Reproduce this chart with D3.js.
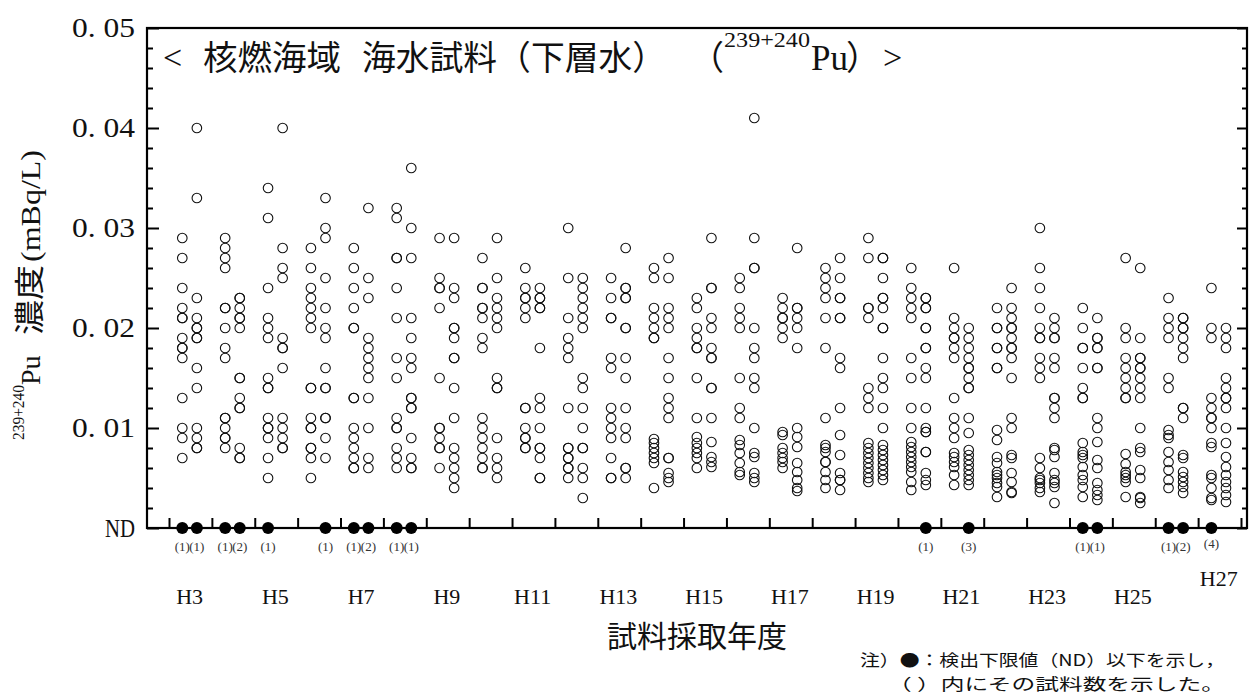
<!DOCTYPE html>
<html><head><meta charset="utf-8">
<script src="https://cdn.jsdelivr.net/npm/d3@7"></script>
<style>
body{margin:0;background:#fff;}
svg{display:block;}
</style></head><body>
<svg id="chart" width="1258" height="694"></svg>
<script>
// ---------------- data ----------------
const yearLabels = ["H3","H5","H7","H9","H11","H13","H15","H17","H19","H21","H23","H25","H27"];
const yearLabelYears = [3,5,7,9,11,13,15,17,19,21,23,25,27];
const yearBoundaries = [3,4,5,6,7,8,9,10,11,12,13,14,15,16,17,18,19,20,21,22,23,24,25,26,27,28];
const yTickValues = [0,0.01,0.02,0.03,0.04,0.05];
const yTickLabels = ["ND","0. 01","0. 02","0. 03","0. 04","0. 05"];

// each sampling column: fiscal year, half (0 = first column, 1 = second column), values (mBq/L)
const columnYear = [3,3,4,4,5,5,6,6,7,7,8,8,9,9,10,10,11,11,12,12,13,13,14,14,15,15,16,16,17,17,18,18,19,19,20,20,21,21,22,22,23,23,24,24,25,25,26,26,27,27];
const columnHalf = [0,1,0,1,0,1,0,1,0,1,0,1,0,1,0,1,0,1,0,1,0,1,0,1,0,1,0,1,0,1,0,1,0,1,0,1,0,1,0,1,0,1,0,1,0,1,0,1,0,1];
const columnValues = [
  [0.029,0.027,0.024,0.022,0.021,0.021,0.019,0.018,0.018,0.017,0.013,0.010,0.009,0.007],
  [0.040,0.033,0.023,0.021,0.020,0.020,0.019,0.019,0.016,0.014,0.010,0.009,0.008,0.008],
  [0.029,0.028,0.027,0.026,0.022,0.022,0.020,0.018,0.017,0.011,0.011,0.010,0.009,0.009,0.008],
  [0.023,0.023,0.022,0.021,0.021,0.020,0.015,0.015,0.013,0.012,0.012,0.008,0.007,0.007],
  [0.034,0.031,0.024,0.021,0.020,0.019,0.015,0.014,0.014,0.011,0.010,0.010,0.009,0.007,0.005],
  [0.040,0.028,0.026,0.025,0.019,0.018,0.018,0.016,0.011,0.010,0.009,0.008,0.008],
  [0.028,0.026,0.024,0.023,0.022,0.021,0.020,0.014,0.014,0.011,0.010,0.010,0.008,0.008,0.007,0.005],
  [0.033,0.030,0.029,0.025,0.022,0.020,0.019,0.016,0.014,0.014,0.011,0.011,0.009,0.007],
  [0.028,0.026,0.024,0.022,0.020,0.020,0.013,0.013,0.010,0.009,0.008,0.007,0.006,0.006],
  [0.032,0.025,0.023,0.019,0.018,0.017,0.016,0.015,0.013,0.010,0.007,0.006],
  [0.032,0.031,0.027,0.027,0.024,0.021,0.017,0.015,0.011,0.010,0.010,0.008,0.007,0.006],
  [0.036,0.030,0.027,0.021,0.019,0.017,0.016,0.013,0.013,0.012,0.012,0.009,0.007,0.006,0.006],
  [0.029,0.025,0.024,0.024,0.022,0.015,0.010,0.010,0.009,0.008,0.008,0.006],
  [0.029,0.024,0.023,0.020,0.020,0.019,0.017,0.017,0.014,0.011,0.008,0.007,0.006,0.005,0.004],
  [0.027,0.024,0.024,0.022,0.022,0.021,0.019,0.018,0.011,0.010,0.009,0.008,0.007,0.006,0.006],
  [0.029,0.025,0.023,0.022,0.021,0.020,0.015,0.014,0.014,0.009,0.007,0.006,0.005],
  [0.026,0.024,0.023,0.023,0.022,0.021,0.012,0.012,0.010,0.009,0.009,0.008,0.008],
  [0.024,0.023,0.023,0.022,0.022,0.018,0.013,0.012,0.010,0.008,0.008,0.007,0.005,0.005],
  [0.030,0.025,0.021,0.019,0.018,0.017,0.012,0.008,0.008,0.007,0.007,0.006,0.006,0.005],
  [0.025,0.024,0.023,0.022,0.021,0.020,0.015,0.014,0.012,0.010,0.008,0.008,0.006,0.005,0.003],
  [0.025,0.023,0.021,0.021,0.017,0.016,0.012,0.011,0.010,0.009,0.007,0.005,0.005],
  [0.028,0.024,0.024,0.023,0.023,0.020,0.020,0.017,0.015,0.012,0.010,0.009,0.006,0.006,0.005],
  [0.026,0.025,0.022,0.021,0.020,0.019,0.019,0.0089,0.0085,0.0080,0.0075,0.0070,0.0065,0.0040],
  [0.027,0.025,0.022,0.021,0.020,0.017,0.015,0.013,0.012,0.011,0.0070,0.0070,0.0055,0.0050,0.0046],
  [0.023,0.022,0.020,0.019,0.018,0.018,0.015,0.011,0.0091,0.0085,0.0080,0.0075,0.0070,0.0060],
  [0.029,0.024,0.024,0.021,0.020,0.018,0.017,0.017,0.014,0.014,0.011,0.0086,0.0071,0.0066,0.0061],
  [0.025,0.024,0.022,0.021,0.020,0.015,0.012,0.011,0.0088,0.0083,0.0075,0.0065,0.0056,0.0053],
  [0.041,0.029,0.026,0.026,0.020,0.018,0.017,0.015,0.014,0.010,0.0075,0.0071,0.0055,0.0050,0.0046],
  [0.023,0.022,0.021,0.021,0.020,0.019,0.0096,0.0093,0.0080,0.0075,0.0070,0.0066,0.0060],
  [0.028,0.022,0.022,0.021,0.020,0.018,0.010,0.0091,0.0081,0.0065,0.0056,0.0048,0.0040,0.0037],
  [0.026,0.025,0.024,0.023,0.021,0.018,0.011,0.0083,0.0080,0.0076,0.0066,0.0066,0.0056,0.0048,0.0040],
  [0.027,0.025,0.023,0.023,0.021,0.021,0.017,0.016,0.012,0.0093,0.0073,0.0055,0.0048,0.0048,0.0038],
  [0.029,0.027,0.022,0.022,0.021,0.014,0.013,0.012,0.0085,0.0080,0.0075,0.0070,0.0065,0.0060,0.0055,0.0050,0.0046],
  [0.027,0.027,0.025,0.023,0.023,0.022,0.020,0.020,0.017,0.015,0.014,0.012,0.010,0.0083,0.0078,0.0073,0.0068,0.0063,0.0058,0.0053,0.0048],
  [0.026,0.024,0.023,0.022,0.021,0.017,0.015,0.012,0.010,0.0086,0.0081,0.0076,0.0071,0.0066,0.0061,0.0056,0.0046,0.0038],
  [0.023,0.023,0.022,0.022,0.020,0.020,0.018,0.018,0.016,0.015,0.012,0.010,0.0096,0.0096,0.0076,0.0076,0.0055,0.0048,0.0043],
  [0.026,0.021,0.020,0.019,0.019,0.018,0.017,0.013,0.011,0.010,0.009,0.0075,0.0071,0.0066,0.0061,0.0053,0.0043],
  [0.020,0.019,0.018,0.017,0.016,0.016,0.015,0.014,0.014,0.011,0.0095,0.0078,0.0073,0.0068,0.0063,0.0058,0.0053,0.0048,0.0043],
  [0.022,0.020,0.020,0.018,0.018,0.016,0.016,0.0098,0.0088,0.0071,0.0065,0.0056,0.0053,0.0050,0.0045,0.0041,0.0031],
  [0.024,0.022,0.021,0.020,0.020,0.019,0.018,0.018,0.017,0.015,0.011,0.010,0.0073,0.0070,0.0055,0.0046,0.0036,0.0035],
  [0.030,0.026,0.024,0.022,0.020,0.019,0.019,0.017,0.016,0.015,0.0070,0.0060,0.0050,0.0048,0.0045,0.0040,0.0036],
  [0.021,0.020,0.019,0.019,0.017,0.016,0.013,0.013,0.012,0.011,0.0080,0.0078,0.0071,0.0055,0.0048,0.0045,0.0041,0.0025],
  [0.022,0.020,0.018,0.018,0.016,0.014,0.013,0.013,0.0085,0.0076,0.0073,0.0070,0.0061,0.0053,0.0048,0.0041,0.0031],
  [0.021,0.019,0.019,0.018,0.018,0.016,0.016,0.011,0.010,0.0086,0.0068,0.0060,0.0045,0.0038,0.0033,0.0028],
  [0.027,0.020,0.019,0.017,0.016,0.015,0.014,0.013,0.013,0.0074,0.0064,0.0056,0.0053,0.0050,0.0046,0.0031],
  [0.026,0.019,0.017,0.017,0.016,0.016,0.015,0.014,0.013,0.010,0.0080,0.0076,0.0058,0.0050,0.0031,0.0030,0.0025],
  [0.023,0.021,0.020,0.019,0.015,0.014,0.0098,0.0093,0.0090,0.0076,0.0066,0.0058,0.0048,0.0040],
  [0.021,0.021,0.020,0.020,0.019,0.018,0.017,0.012,0.012,0.011,0.0073,0.0070,0.0056,0.0051,0.0046,0.0041,0.0035],
  [0.024,0.020,0.019,0.013,0.012,0.011,0.011,0.010,0.0085,0.0081,0.0053,0.0050,0.0040,0.0030,0.0028],
  [0.020,0.019,0.018,0.015,0.014,0.013,0.013,0.012,0.010,0.0085,0.0071,0.0061,0.0053,0.0046,0.0040,0.0033,0.0026]
];

// ND (below detection limit) markers: fiscal year, column, number of samples
const ndYear  = [3,3,4,4,5,6,7,7,8,8,20,21,24,24,26,26,27];
const ndHalf  = [0,1,0,1,0,1,0,1,0,1,1,1,0,1,0,1,0];
const ndCount = [1,1,1,2,1,1,1,2,1,1,1,3,1,1,1,2,4];

// ---------------- drawing ----------------
const SERIF = "'Liberation Serif','DejaVu Serif',serif";
const CJK = "'Noto Sans CJK JP',sans-serif";
const svg = d3.select("#chart");
const x = d3.scaleLinear().domain([2.487, 28.14]).range([147, 1247]);
const y = d3.scaleLinear().domain([0, 0.05]).range([528, 28]);
const colOffset = [0.31, 0.65];
const colX = (yr, h) => x(yr + colOffset[h]);

// frame
svg.append("rect")
  .attr("x", x.range()[0]).attr("y", y.range()[1])
  .attr("width", x.range()[1] - x.range()[0])
  .attr("height", y.range()[0] - y.range()[1])
  .attr("fill", "none").attr("stroke", "#000").attr("stroke-width", 2.2);

const minorY = d3.range(0.002, 0.05, 0.002).filter(v => Math.abs(v*100 - Math.round(v*100)) > 1e-6);

// left axis
const gl = svg.append("g").attr("transform", `translate(${x.range()[0]},0)`)
  .call(d3.axisLeft(y).tickValues(yTickValues).tickFormat((d,i) => yTickLabels[i]).tickSizeInner(-12).tickSizeOuter(0).tickPadding(12));
gl.select(".domain").remove();
gl.selectAll("line").attr("stroke", "#000").attr("stroke-width", 2);
gl.selectAll("text").attr("font-family", SERIF).attr("font-size", 28).attr("fill", "#111")
  .attr("textLength", (d,i) => i === 0 ? 30 : 63).attr("lengthAdjust", "spacingAndGlyphs");
gl.selectAll(".tick text").filter((d,i) => i === 0).attr("font-size", 25);
const glm = svg.append("g").attr("transform", `translate(${x.range()[0]},0)`)
  .call(d3.axisLeft(y).tickValues(minorY).tickFormat("").tickSizeInner(-6).tickSizeOuter(0));
glm.select(".domain").remove();
glm.selectAll("line").attr("stroke", "#000").attr("stroke-width", 2);

// right axis
const gr = svg.append("g").attr("transform", `translate(${x.range()[1]},0)`)
  .call(d3.axisRight(y).tickValues(yTickValues).tickFormat("").tickSizeInner(-10).tickSizeOuter(0));
gr.select(".domain").remove();
gr.selectAll("line").attr("stroke", "#000").attr("stroke-width", 2);
const grm = svg.append("g").attr("transform", `translate(${x.range()[1]},0)`)
  .call(d3.axisRight(y).tickValues(minorY).tickFormat("").tickSizeInner(-5).tickSizeOuter(0));
grm.select(".domain").remove();
grm.selectAll("line").attr("stroke", "#000").attr("stroke-width", 2);

// bottom axis ticks (year boundaries)
const gb = svg.append("g").attr("transform", `translate(0,${y.range()[0]})`)
  .call(d3.axisBottom(x).tickValues(yearBoundaries).tickFormat("").tickSizeInner(-10).tickSizeOuter(0));
gb.select(".domain").remove();
gb.selectAll("line").attr("stroke", "#000").attr("stroke-width", 2);

// year labels
svg.append("g").selectAll("text").data(yearLabels).join("text")
  .attr("x", (d,i) => x(yearLabelYears[i] + 0.48))
  .attr("y", (d,i) => yearLabelYears[i] === 27 ? 586 : 604)
  .attr("text-anchor", "middle")
  .attr("font-family", SERIF).attr("font-size", 22).attr("fill", "#111")
  .text(d => d);

// data points
const pts = [];
columnValues.forEach((vals, i) => vals.forEach(v => pts.push({yr: columnYear[i], h: columnHalf[i], v})));
svg.append("g").selectAll("circle").data(pts).join("circle")
  .attr("cx", d => colX(d.yr, d.h))
  .attr("cy", d => y(d.v))
  .attr("r", 4.8)
  .attr("fill", "none").attr("stroke", "#111").attr("stroke-width", 1.1);

// ND markers
const nd = ndYear.map((yr, i) => ({yr, h: ndHalf[i], n: ndCount[i]}));
svg.append("g").selectAll("circle").data(nd).join("circle")
  .attr("cx", d => colX(d.yr, d.h)).attr("cy", y(0)).attr("r", 6).attr("fill", "#000");
svg.append("g").selectAll("text").data(nd).join("text")
  .attr("x", d => colX(d.yr, d.h)).attr("y", d => d.n === 4 ? 548 : 551)
  .attr("text-anchor", "middle")
  .attr("font-family", SERIF).attr("font-size", 13).attr("fill", "#333")
  .text(d => `(${d.n})`);

// title
const title = svg.append("g").attr("fill", "#111");
title.append("text").attr("x", 163).attr("y", 69).attr("font-family", SERIF).attr("font-size", 34).text("<");
title.append("text").attr("x", 203).attr("y", 70).attr("font-family", CJK).attr("font-size", 34)
  .attr("textLength", 138).attr("lengthAdjust", "spacingAndGlyphs").text("核燃海域");
title.append("text").attr("x", 362).attr("y", 70).attr("font-family", CJK).attr("font-size", 34)
  .attr("textLength", 304).attr("lengthAdjust", "spacingAndGlyphs").text("海水試料（下層水）");
title.append("text").attr("x", 690).attr("y", 70).attr("font-family", CJK).attr("font-size", 34).text("（");
title.append("text").attr("x", 724).attr("y", 47).attr("font-family", SERIF).attr("font-size", 22)
  .attr("textLength", 86).attr("lengthAdjust", "spacingAndGlyphs").text("239+240");
title.append("text").attr("x", 811).attr("y", 70).attr("font-family", SERIF).attr("font-size", 35).text("Pu");
title.append("text").attr("x", 846).attr("y", 70).attr("font-family", CJK).attr("font-size", 34).text("）");
title.append("text").attr("x", 883).attr("y", 69).attr("font-family", SERIF).attr("font-size", 34).text(">");

// y-axis title (rotated, reads bottom to top)
const yt = svg.append("g").attr("transform", "translate(40,440) rotate(-90)").attr("fill", "#111");
yt.append("text").attr("x", 0).attr("y", -16).attr("font-family", SERIF).attr("font-size", 17)
  .attr("textLength", 55).attr("lengthAdjust", "spacingAndGlyphs").text("239+240");
yt.append("text").attr("x", 55).attr("y", 0).attr("font-family", SERIF).attr("font-size", 28).text("Pu");
yt.append("text").attr("x", 105).attr("y", 0).attr("font-family", CJK).attr("font-size", 30)
  .attr("textLength", 70).attr("lengthAdjust", "spacingAndGlyphs").text("濃度");
yt.append("text").attr("x", 178).attr("y", 0).attr("font-family", SERIF).attr("font-size", 28)
  .attr("textLength", 112).attr("lengthAdjust", "spacingAndGlyphs").text("(mBq/L)");

// x-axis title
svg.append("text").attr("x", 697).attr("y", 647).attr("text-anchor", "middle")
  .attr("font-family", CJK).attr("font-size", 30).attr("fill", "#111").text("試料採取年度");

// note
svg.append("text").attr("x", 860).attr("y", 666).attr("font-family", CJK).attr("font-size", 16)
  .attr("textLength", 365).attr("lengthAdjust", "spacingAndGlyphs").attr("fill", "#111")
  .text("注）●：検出下限値（ND）以下を示し，");
svg.append("text").attr("x", 888).attr("y", 690).attr("font-family", CJK).attr("font-size", 16)
  .attr("textLength", 337).attr("lengthAdjust", "spacingAndGlyphs").attr("fill", "#111")
  .text("（ ）内にその試料数を示した。");
</script></body></html>
